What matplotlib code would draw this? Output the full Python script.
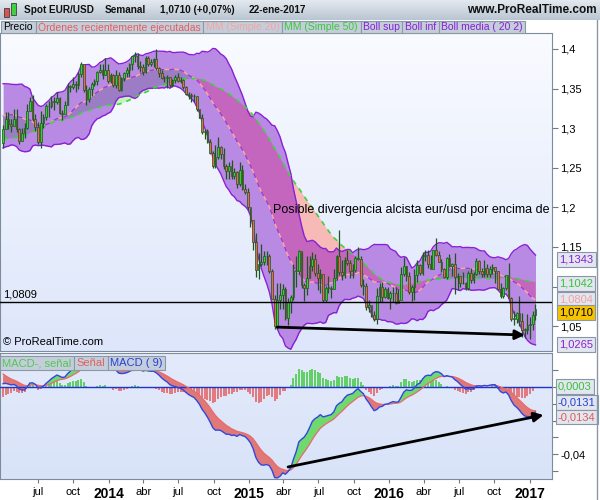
import numpy as np
import pandas as pd
import matplotlib
matplotlib.use("Agg")
import matplotlib.pyplot as plt
import matplotlib.dates as mdates
from matplotlib.patches import Rectangle
from matplotlib.colors import LinearSegmentedColormap
from matplotlib.transforms import blended_transform_factory

plt.rcParams['font.family'] = ['Liberation Sans', 'DejaVu Sans']

# weekly closes before the visible window (only feed the indicators), weeks from 2012-04-02
warmup_close = [1.3076, 1.3075, 1.3225, 1.3235, 1.3085, 1.2915, 1.2815, 1.2515, 1.2435,
                1.2515, 1.2640, 1.2570, 1.2665, 1.2290, 1.2245, 1.2155, 1.2320, 1.2390,
                1.2285, 1.2335, 1.2515, 1.2575, 1.2815, 1.3125, 1.2980, 1.2860, 1.3040,
                1.2950, 1.3020, 1.2940, 1.2830, 1.2710, 1.2745, 1.2975, 1.2985, 1.2925,
                1.3165, 1.3185, 1.3215, 1.3070, 1.3365, 1.3315, 1.3460, 1.3635, 1.3365,
                1.3360, 1.3190, 1.3020, 1.3005, 1.3075, 1.2985, 1.2815]

# visible weekly candles, weeks from 2013-04-01 to 2017-01-16 (open = previous close)
close = [
    # 2013
    1.2995, 1.3115, 1.3050, 1.3030, 1.3115, 1.2990, 1.2835, 1.2935, 1.3005, 1.3220,
    1.3345, 1.3120, 1.3010, 1.2830, 1.3065, 1.3145, 1.3275, 1.3280, 1.3345, 1.3335,
    1.3380, 1.3195, 1.3175, 1.3295, 1.3525, 1.3525, 1.3555, 1.3550, 1.3685, 1.3805,
    1.3485, 1.3365, 1.3500, 1.3555, 1.3590, 1.3705, 1.3740, 1.3675, 1.3740, 1.3590,
    # 2014
    1.3665, 1.3540, 1.3675, 1.3485, 1.3635, 1.3690, 1.3740, 1.3805, 1.3910, 1.3915,
    1.3790, 1.3770, 1.3705, 1.3885, 1.3810, 1.3830, 1.3870, 1.3755, 1.3695, 1.3630,
    1.3635, 1.3640, 1.3545, 1.3605, 1.3645, 1.3590, 1.3605, 1.3525, 1.3430, 1.3415,
    1.3410, 1.3400, 1.3240, 1.3130, 1.2950, 1.2965, 1.2830, 1.2685, 1.2520, 1.2630,
    1.2760, 1.2670, 1.2525, 1.2455, 1.2525, 1.2390, 1.2450, 1.2290, 1.2465, 1.2225,
    1.2190, 1.2000,
    # 2015
    1.1840, 1.1565, 1.1205, 1.1290, 1.1315, 1.1385, 1.1380, 1.1195, 1.0845, 1.0495,
    1.0825, 1.0890, 1.0970, 1.0600, 1.0805, 1.0870, 1.1200, 1.1200, 1.1450, 1.1015,
    1.0985, 1.1110, 1.1260, 1.1350, 1.1165, 1.1110, 1.1160, 1.0830, 1.0985, 1.0985,
    1.0965, 1.1105, 1.1385, 1.1185, 1.1150, 1.1335, 1.1300, 1.1195, 1.1210, 1.1355,
    1.1350, 1.1015, 1.1005, 1.0740, 1.0770, 1.0645, 1.0590, 1.0885, 1.0990, 1.0865,
    1.0965, 1.0860,
    # 2016
    1.0920, 1.0915, 1.0795, 1.0830, 1.1155, 1.1255, 1.1130, 1.0935, 1.0995, 1.1150,
    1.1270, 1.1165, 1.1390, 1.1400, 1.1285, 1.1225, 1.1455, 1.1400, 1.1310, 1.1225,
    1.1115, 1.1365, 1.1255, 1.1280, 1.1115, 1.1135, 1.1050, 1.1040, 1.0975, 1.1170,
    1.1085, 1.1160, 1.1325, 1.1200, 1.1155, 1.1235, 1.1155, 1.1225, 1.1240, 1.1200,
    1.0970, 1.0880, 1.0985, 1.1140, 1.0855, 1.0590, 1.0590, 1.0660, 1.0565, 1.0450,
    1.0455, 1.0520,
    # 2017
    1.0530, 1.0645, 1.0710]

high = [
    1.3035, 1.3205, 1.3200, 1.3110, 1.3245, 1.3240, 1.3005, 1.3000, 1.3060, 1.3305,
    1.3390, 1.3415, 1.3175, 1.3080, 1.3210, 1.3175, 1.3300, 1.3345, 1.3400, 1.3390,
    1.3450, 1.3390, 1.3230, 1.3340, 1.3570, 1.3545, 1.3645, 1.3590, 1.3705, 1.3830,
    1.3800, 1.3540, 1.3520, 1.3585, 1.3620, 1.3720, 1.3810, 1.3810, 1.3890, 1.3810,
    1.3700, 1.3685, 1.3740, 1.3705, 1.3645, 1.3715, 1.3775, 1.3825, 1.3915, 1.3967,
    1.3945, 1.3845, 1.3810, 1.3905, 1.3905, 1.3875, 1.3890, 1.3993, 1.3770, 1.3735,
    1.3655, 1.3670, 1.3595, 1.3615, 1.3675, 1.3700, 1.3650, 1.3620, 1.3530, 1.3450,
    1.3440, 1.3435, 1.3395, 1.3235, 1.3180, 1.2995, 1.2990, 1.2860, 1.2705, 1.2790,
    1.2890, 1.2770, 1.2750, 1.2545, 1.2575, 1.2600, 1.2500, 1.2455, 1.2570, 1.2530,
    1.2290, 1.2250,
    1.1975, 1.1825, 1.1680, 1.1425, 1.1535, 1.1450, 1.1450, 1.1410, 1.1220, 1.0890,
    1.1045, 1.1050, 1.1035, 1.1000, 1.0850, 1.0890, 1.1290, 1.1390, 1.1465, 1.1440,
    1.1050, 1.1385, 1.1385, 1.1435, 1.1410, 1.1280, 1.1215, 1.1125, 1.1010, 1.1130,
    1.1010, 1.1215, 1.1395, 1.1714, 1.1330, 1.1375, 1.1460, 1.1330, 1.1290, 1.1390,
    1.1495, 1.1385, 1.1095, 1.1045, 1.0830, 1.0745, 1.0685, 1.0985, 1.1045, 1.1060,
    1.0990, 1.0990,
    1.0940, 1.0995, 1.0990, 1.0970, 1.1240, 1.1375, 1.1260, 1.1180, 1.1020, 1.1220,
    1.1340, 1.1285, 1.1440, 1.1455, 1.1465, 1.1400, 1.1465, 1.1615, 1.1445, 1.1345,
    1.1235, 1.1375, 1.1415, 1.1300, 1.1425, 1.1165, 1.1120, 1.1185, 1.1060, 1.1195,
    1.1235, 1.1180, 1.1365, 1.1340, 1.1235, 1.1330, 1.1285, 1.1260, 1.1280, 1.1240,
    1.1200, 1.1040, 1.0990, 1.1145, 1.1300, 1.0865, 1.0690, 1.0675, 1.0875, 1.0670,
    1.0475, 1.0655,
    1.0615, 1.0685, 1.0775]

low = [
    1.2745, 1.2985, 1.2995, 1.2955, 1.3055, 1.2955, 1.2795, 1.2840, 1.2875, 1.2990,
    1.3220, 1.3090, 1.2970, 1.2805, 1.2755, 1.3005, 1.3105, 1.3140, 1.3255, 1.3225,
    1.3310, 1.3175, 1.3105, 1.3235, 1.3290, 1.3450, 1.3490, 1.3460, 1.3500, 1.3650,
    1.3450, 1.3295, 1.3330, 1.3400, 1.3530, 1.3540, 1.3700, 1.3625, 1.3665, 1.3570,
    1.3570, 1.3520, 1.3510, 1.3475, 1.3475, 1.3590, 1.3640, 1.3645, 1.3730, 1.3830,
    1.3750, 1.3705, 1.3675, 1.3700, 1.3790, 1.3785, 1.3775, 1.3735, 1.3645, 1.3615,
    1.3585, 1.3505, 1.3525, 1.3525, 1.3570, 1.3585, 1.3570, 1.3490, 1.3420, 1.3365,
    1.3335, 1.3335, 1.3215, 1.3130, 1.2920, 1.2860, 1.2815, 1.2670, 1.2500, 1.2500,
    1.2615, 1.2615, 1.2480, 1.2355, 1.2360, 1.2360, 1.2360, 1.2245, 1.2270, 1.2215,
    1.2165, 1.1960,
    1.1755, 1.1460, 1.1115, 1.1100, 1.1260, 1.1270, 1.1270, 1.1175, 1.0840, 1.0460,
    1.0460, 1.0715, 1.0715, 1.0575, 1.0520, 1.0660, 1.0825, 1.1000, 1.1155, 1.0985,
    1.0820, 1.0890, 1.1105, 1.1195, 1.1135, 1.0955, 1.0915, 1.0810, 1.0810, 1.0920,
    1.0850, 1.0965, 1.1085, 1.1150, 1.1085, 1.1105, 1.1270, 1.1105, 1.1105, 1.1180,
    1.1335, 1.0990, 1.0895, 1.0705, 1.0675, 1.0615, 1.0565, 1.0525, 1.0800, 1.0805,
    1.0850, 1.0845,
    1.0710, 1.0805, 1.0775, 1.0810, 1.0850, 1.1130, 1.1065, 1.0900, 1.0820, 1.0825,
    1.1055, 1.1145, 1.1145, 1.1325, 1.1235, 1.1215, 1.1215, 1.1385, 1.1305, 1.1180,
    1.1105, 1.1100, 1.1245, 1.1130, 1.0910, 1.0960, 1.1000, 1.1030, 1.0950, 1.0955,
    1.1045, 1.1045, 1.1145, 1.1160, 1.1120, 1.1125, 1.1120, 1.1125, 1.1160, 1.1045,
    1.0955, 1.0860, 1.0850, 1.0950, 1.0850, 1.0570, 1.0520, 1.0540, 1.0505, 1.0365,
    1.0352, 1.0395,
    1.0340, 1.0455, 1.0580]

first_week = '2013-04-01'
view_start, view_end = '2013-03-24', '2017-02-28'

tick_dates = ['2013-07-01', '2013-10-01', '2014-01-01', '2014-04-01', '2014-07-01',
              '2014-10-01', '2015-01-01', '2015-04-01', '2015-07-01', '2015-10-01',
              '2016-01-01', '2016-04-01', '2016-07-01', '2016-10-01', '2017-01-01']
tick_labels = ['jul', 'oct', '2014', 'abr', 'jul', 'oct', '2015', 'abr', 'jul', 'oct',
               '2016', 'abr', 'jul', 'oct', '2017']

price_ticks = [1.05, 1.1, 1.15, 1.2, 1.25, 1.3, 1.35, 1.4]
price_tick_labels = ['1,05', '', '1,15', '1,2', '1,25', '1,3', '1,35', '1,4']

ref_level = 1.0809
# right-hand value boxes: (text, where it sits, text colour, face colour)
price_boxes = [('1,1343', 1.1343, '#8a1fd6', '#e2e6ef'),
               ('1,1042', 1.1042, '#38c238', '#e2e6ef'),
               ('1,0804', 1.0832, '#f3a0a0', '#e2e6ef'),
               ('1,0710', 1.0668, 'black', '#f7c300'),
               ('1,0265', 1.0265, '#8a1fd6', '#e2e6ef')]
macd_boxes = [('0,0003', 0.0003, '#38c238'),
              ('-0,0131', -0.0090, '#2a3fd8'),
              ('-0,0134', -0.0179, '#e05a5a')]

header_parts = [('Spot EUR/USD', 24), ('Semanal', 105), ('1,0710 (+0,07%)', 160),
                ('22-ene-2017', 249)]

# divergence arrows
price_arrow = [('2015-03-16', 1.0487), ('2016-12-19', 1.0387)]
macd_arrow = [('2015-04-13', -0.0477), ('2017-02-06', -0.0167)]
note_text = 'Posible divergencia alcista eur/usd por encima de'
note_pos = ('2015-03-05', 1.196)

# ---------------- indicators ----------------
all_close = pd.Series(warmup_close + close)
n = len(close)
sma20 = all_close.rolling(20).mean()
std20 = all_close.rolling(20).std(ddof=0)
upper = (sma20 + 2 * std20).values[-n:]
lower = (sma20 - 2 * std20).values[-n:]
s20 = sma20.values[-n:]
s50 = all_close.rolling(50).mean().values[-n:]
ema12 = all_close.ewm(span=12, adjust=False).mean()
ema26 = all_close.ewm(span=26, adjust=False).mean()
macd_all = ema12 - ema26
signal_all = macd_all.ewm(span=9, adjust=False).mean()
macd = macd_all.values[-n:]
signal = signal_all.values[-n:]
hist = macd - signal

opens = np.array([warmup_close[-1]] + close[:-1])
closes = np.array(close)
highs = np.array(high)
lows = np.array(low)
dates = mdates.date2num(pd.date_range(first_week, periods=n, freq='7D').to_pydatetime())

W, H = 600, 500
fig = plt.figure(figsize=(6, 5), dpi=100, facecolor='white')


def fx(px):
    return px / W


def fy(py):
    return 1 - py / H


def gradient(ax, top, bottom):
    cmap = LinearSegmentedColormap.from_list('g', [top, bottom])
    ax.imshow(np.linspace(0, 1, 256).reshape(-1, 1), cmap=cmap, extent=[0, 1, 0, 1],
              transform=ax.transAxes, aspect='auto', zorder=0, interpolation='bilinear')


x0 = mdates.date2num(pd.Timestamp(view_start))
x1 = mdates.date2num(pd.Timestamp(view_end))

# ---------------- price panel ----------------
ax = fig.add_axes([0, fy(351), fx(552), (351 - 33) / H])
gradient(ax, '#f9fbff', '#dde6fa')

ax.fill_between(dates, s20, s50, where=s20 <= s50, interpolate=True, color='#f7bab6', lw=0, zorder=1)
ax.fill_between(dates, s20, s50, where=s20 >= s50, interpolate=True, color='#c2f5bb', lw=0, zorder=1)
ax.fill_between(dates, lower, upper, color='#b98ae4', lw=0, zorder=2)
lo = np.maximum(np.minimum(s20, s50), lower)
hi = np.minimum(np.maximum(s20, s50), upper)
ax.fill_between(dates, lo, hi, where=(hi > lo) & (s20 <= s50), color='#c466bd', lw=0, zorder=3)
ax.fill_between(dates, lo, hi, where=(hi > lo) & (s20 > s50), color='#9c7cc4', lw=0, zorder=3)

ax.plot(dates, upper, color='#8a1fd6', lw=1.0, zorder=5)
ax.plot(dates, lower, color='#8a1fd6', lw=1.0, zorder=5)
ax.plot(dates, s20, color='#9a35d8', lw=0.8, zorder=5)
ax.plot(dates, s20, color='#f6a8a4', lw=1.2, dashes=(3, 3), zorder=6)
ax.plot(dates, s50, color='#3fd23f', lw=1.2, dashes=(3, 3), zorder=6)

up = closes >= opens
body_lo = np.minimum(opens, closes)
body_h = np.maximum(np.abs(closes - opens), 0.0008)
ax.vlines(dates, lows, highs, color='#1d561d', lw=0.9, zorder=7)
ax.bar(dates, body_h, bottom=body_lo, width=4.4, color=np.where(up, '#31d131', '#e8684f'),
       edgecolor='#1d561d', linewidth=0.5, zorder=8)

ax.axhline(ref_level, color='black', lw=1.0, zorder=9)
ax.text(fx(3) / fx(552), ref_level + 0.003, '1,0809',
        transform=blended_transform_factory(ax.transAxes, ax.transData),
        fontsize=8, va='bottom', ha='left', zorder=10)

(a0d, a0y), (a1d, a1y) = price_arrow
ax.annotate('', xy=(mdates.date2num(pd.Timestamp(a1d)), a1y),
            xytext=(mdates.date2num(pd.Timestamp(a0d)), a0y),
            arrowprops=dict(arrowstyle='-|>', color='black', lw=2, mutation_scale=14, shrinkA=0, shrinkB=0),
            zorder=10)
ax.text(mdates.date2num(pd.Timestamp(note_pos[0])), note_pos[1], note_text, fontsize=9,
        va='center', ha='left', zorder=10, clip_on=True)
ax.text(0.005, 0.012, '© ProRealTime.com', transform=ax.transAxes, fontsize=8, va='bottom', zorder=10)

ax.set_xlim(x0, x1)
ax.set_ylim(1.01855, 1.42013)
ax.set_xticks([])
ax.yaxis.tick_right()
ax.set_yticks(price_ticks)
ax.set_yticklabels(price_tick_labels)
ax.tick_params(axis='y', direction='out', length=4, pad=2, labelsize=8, color='#6b7b8b')
for sp in ax.spines.values():
    sp.set_color('#7d8c9b')

tr = blended_transform_factory(ax.transAxes, ax.transData)
for txt, val, tc, fc in price_boxes:
    ax.text(1 + 7 / 552, val, txt, transform=tr, fontsize=8, color=tc, va='center', ha='left',
            clip_on=False, zorder=12,
            bbox=dict(boxstyle='square,pad=0.22', fc=fc, ec='#8797a8', lw=0.8))

# ---------------- MACD panel ----------------
ax2 = fig.add_axes([0, fy(479), fx(552), (479 - 353) / H])
gradient(ax2, '#e3eafb', '#d9e3f8')
ax2.vlines(dates, 0, hist, colors=np.where(hist >= 0, '#3cc83c', '#e35a5a'), lw=1.1, zorder=2)
ax2.fill_between(dates, macd, signal, where=macd >= signal, interpolate=True, color='#6fd86f', lw=0, zorder=3)
ax2.fill_between(dates, macd, signal, where=macd <= signal, interpolate=True, color='#e07878', lw=0, zorder=3)
ax2.axhline(0, color='#2233cc', lw=1.0, zorder=4)
ax2.plot(dates, signal, color='#ea6a6a', lw=0.9, zorder=5)
ax2.plot(dates, macd, color='#3047e0', lw=1.0, zorder=6)
(m0d, m0y), (m1d, m1y) = macd_arrow
ax2.annotate('', xy=(mdates.date2num(pd.Timestamp(m1d)), m1y),
             xytext=(mdates.date2num(pd.Timestamp(m0d)), m0y),
             arrowprops=dict(arrowstyle='-|>', color='black', lw=2, mutation_scale=14, shrinkA=0, shrinkB=0),
             zorder=10)
ax2.set_xlim(x0, x1)
ax2.set_ylim(-0.0549, 0.0203)
ax2.yaxis.tick_right()
mt = [0.01, 0.0, -0.01, -0.02, -0.03, -0.04, -0.05]
ax2.set_yticks(mt)
ax2.set_yticklabels(['-0,04' if abs(v + 0.04) < 1e-9 else '' for v in mt])
ax2.tick_params(axis='y', direction='out', length=4, pad=2, labelsize=8, color='#6b7b8b')
ax2.set_xticks(mdates.date2num(pd.to_datetime(tick_dates).to_pydatetime()))
ax2.set_xticklabels(tick_labels)
for lab in ax2.get_xticklabels():
    if lab.get_text().isdigit():
        lab.set_fontweight('bold')
        lab.set_fontsize(10)
    else:
        lab.set_fontsize(8)
ax2.tick_params(axis='x', direction='out', length=3, pad=3, color='#6b7b8b')
for sp in ax2.spines.values():
    sp.set_color('#7d8c9b')
tr2 = blended_transform_factory(ax2.transAxes, ax2.transData)
for txt, val, tc in macd_boxes:
    ax2.text(1 + 6 / 552, val, txt, transform=tr2, fontsize=8, color=tc, va='center', ha='left',
             clip_on=False, zorder=12,
             bbox=dict(boxstyle='square,pad=0.22', fc='#e2e6ef', ec='#8797a8', lw=0.8))

# ---------------- header & legends ----------------
hax = fig.add_axes([0, fy(20), 1, 20 / H])
gradient(hax, '#e4e9ef', '#b9c5d2')
hax.set_axis_off()
for txt, xp in header_parts:
    fig.text(fx(xp), fy(10), txt, fontsize=7.2, fontweight='bold', va='center', ha='left',
             color='#111111')
fig.text(fx(597), fy(10), 'www.ProRealTime.com', fontsize=8.5, fontweight='bold',
         va='center', ha='right', color='#111111')
# little candlestick logo
fig.add_artist(Rectangle((fx(4), fy(17)), fx(5), 9 / H, fc='#e05050', ec='#404040', lw=0.6))
fig.add_artist(Rectangle((fx(11), fy(15)), fx(5), 12 / H, fc='#40d040', ec='#404040', lw=0.6))

renderer = fig.canvas.get_renderer()


def legend_row(items, x_px, y_top, h_px, size):
    for txt, col in items:
        tx = fig.text(fx(x_px + 2.5), fy(y_top + h_px / 2), txt, fontsize=size, color=col,
                      va='center', ha='left', zorder=20)
        w = tx.get_window_extent(renderer).width
        fig.add_artist(Rectangle((fx(x_px), fy(y_top + h_px)), fx(w + 5), h_px / H,
                                 fc='#c3ceda', ec='#8a98a8', lw=0.8, zorder=19))
        x_px += w + 5


legend_row([('Precio', 'black'), ('Órdenes recientemente ejecutadas', '#ec5a5a'),
            ('MM (Simple 20)', '#f4a4a4'), ('MM (Simple 50)', '#3cc83c'),
            ('Boll sup', '#8a1fd6'), ('Boll inf', '#8a1fd6'),
            ('Boll media ( 20 2)', '#8a1fd6')], 1, 21, 12, 7.5)
legend_row([('MACD-, señal', '#52c852'), ('Señal', '#e06060'), ('MACD ( 9)', '#2a3fd8')],
           0, 356, 14, 8)

fig.add_artist(plt.Line2D([fx(597), fx(597)], [0, fy(20)], color='#8a98a8', lw=1))

fig.savefig('out.png', dpi=100)
